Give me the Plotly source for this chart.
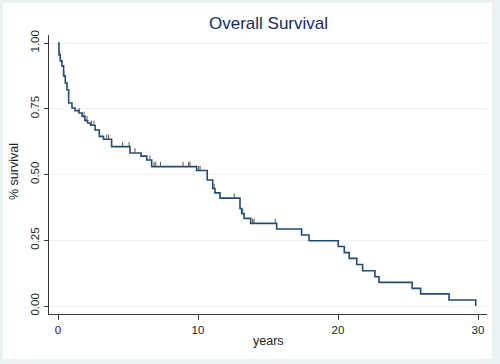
import plotly.graph_objects as go

# Kaplan-Meier step data (time in years, survival after event)
event_times = [0.0, 0.07, 0.16, 0.28, 0.40, 0.52, 0.64, 0.76, 1.00, 1.22, 1.50, 1.72,
               1.92, 2.12, 2.32, 2.65, 2.95, 3.25, 3.83, 5.14, 5.93, 6.34, 6.69, 9.90,
               10.66, 11.05, 11.21, 11.57, 13.00, 13.12, 13.29, 13.76, 15.62, 17.40,
               17.93, 20.02, 20.45, 20.80, 21.34, 21.76, 22.64, 22.93, 25.30, 25.90,
               27.93, 29.84]
survival = [1.0, 0.955, 0.932, 0.913, 0.875, 0.848, 0.822, 0.772, 0.753, 0.743, 0.734, 0.721,
            0.705, 0.696, 0.687, 0.669, 0.645, 0.634, 0.606, 0.582, 0.570, 0.555, 0.530, 0.515,
            0.479, 0.447, 0.430, 0.410, 0.371, 0.352, 0.333, 0.314, 0.293, 0.270,
            0.248, 0.226, 0.203, 0.181, 0.158, 0.134, 0.111, 0.090, 0.067, 0.046,
            0.023, 0.0]
censor_times = [0.12, 0.42, 1.52, 1.86, 2.07, 2.40, 2.57, 3.48, 3.62, 4.62, 5.08, 5.50,
                6.57, 6.86, 6.98, 7.32, 8.93, 9.33, 9.43, 10.05, 10.15, 11.15, 12.59,
                13.20, 13.90, 14.00, 15.52]
x_tick_vals = [0, 10, 20, 30]
y_tick_vals = [0.0, 0.25, 0.50, 0.75, 1.00]
y_tick_text = ["0.00", "0.25", "0.50", "0.75", "1.00"]

TICK_H = 0.018


def surv_at(t):
    s = survival[0]
    for et, sv in zip(event_times, survival):
        if et <= t:
            s = sv
    return s


cx, cy = [], []
for t in censor_times:
    s = surv_at(t)
    cx += [t, t, None]
    cy += [s, s + TICK_H, None]

FONT = "Arial, Liberation Sans, Helvetica, sans-serif"
NAVY = "#1F4B75"

fig = go.Figure()
fig.add_trace(go.Scatter(x=event_times, y=survival, mode="lines",
                         line=dict(color=NAVY, width=1.6, shape="hv"),
                         showlegend=False, hoverinfo="skip"))
fig.add_trace(go.Scatter(x=cx, y=cy, mode="lines",
                         line=dict(color="#555555", width=1),
                         showlegend=False, hoverinfo="skip"))

L, R, T, B = 49, 13, 35, 50
W, H = 500, 364
pw, ph = W - L - R, H - T - B


def px_x(p):
    return (p - L) / pw


def px_y(p):
    return (H - B - p) / ph


fig.update_layout(
    width=W, height=H,
    margin=dict(l=L, r=R, t=T, b=B, autoexpand=False),
    paper_bgcolor="#EAF2F3",
    plot_bgcolor="white",
    font=dict(family=FONT, color="#222222"),
    shapes=[dict(type="rect", xref="paper", yref="paper",
                 x0=px_x(3), x1=px_x(492), y0=px_y(359), y1=px_y(3),
                 fillcolor="white", line=dict(width=0), layer="below")],
    annotations=[
        dict(text="Overall Survival", xref="paper", yref="paper", x=0.5, y=px_y(23),
             xanchor="center", yanchor="middle", showarrow=False,
             font=dict(size=17, color="#1a2a5c", family=FONT)),
        dict(text="years", xref="paper", yref="paper", x=0.5, y=px_y(341),
             xanchor="center", yanchor="middle", showarrow=False,
             font=dict(size=12.5, color="#222222", family=FONT)),
        dict(text="% survival", xref="paper", yref="paper", x=px_x(14), y=px_y(172),
             xanchor="center", yanchor="middle", showarrow=False, textangle=-90,
             font=dict(size=12.5, color="#222222", family=FONT)),
    ],
    xaxis=dict(range=[-0.643, 30.643], tickvals=x_tick_vals, showgrid=False,
               automargin=False,
               zeroline=False, showline=True, linecolor="#3a3a3a", linewidth=1,
               ticks="outside", ticklen=5, tickcolor="#3a3a3a",
               tickfont=dict(size=11.5, family=FONT, color="#222222")),
    yaxis=dict(range=[-0.0304, 1.0304], tickvals=y_tick_vals, ticktext=y_tick_text,
               automargin=False,
               showgrid=True, gridcolor="#EAF2F3", gridwidth=1,
               zeroline=False, showline=True, linecolor="#3a3a3a", linewidth=1,
               ticks="outside", ticklen=4, tickcolor="#3a3a3a", tickangle=-90,
               tickfont=dict(size=11.5, family=FONT, color="#222222")),
)

fig.write_html("out.html", config={"displayModeBar": False},
               post_script="document.body.style.margin='0px';document.body.style.overflow='hidden';")
